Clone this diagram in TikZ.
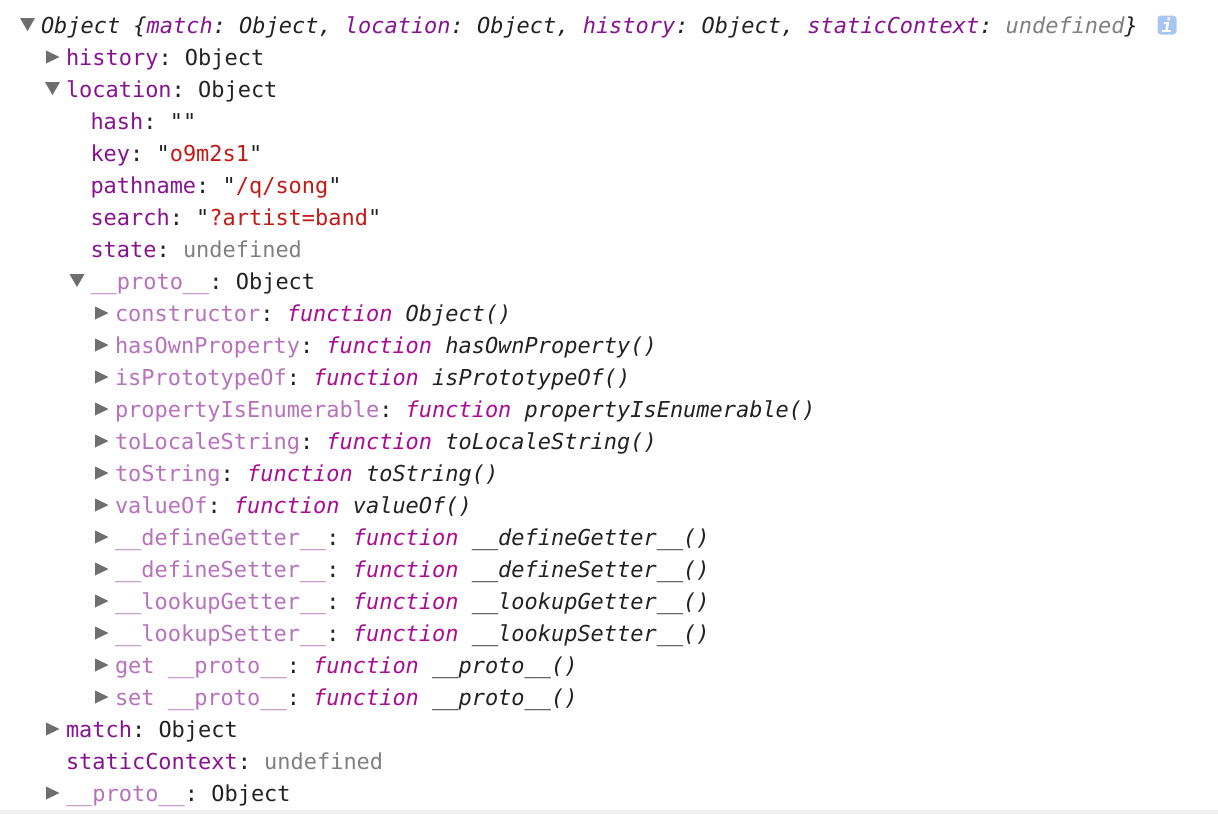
\documentclass[tikz,border=0pt]{standalone}
\usepackage{fontspec}
\setmonofont{DejaVu Sans Mono}
\definecolor{keyc}{HTML}{881391}
\definecolor{proc}{HTML}{B871BD}
\definecolor{strc}{HTML}{C41A16}
\definecolor{undc}{HTML}{808080}
\definecolor{fnc}{HTML}{AA0D91}
\definecolor{txtc}{HTML}{222222}
\definecolor{tric}{HTML}{6E6E6E}
\definecolor{infoc}{HTML}{A8C4F2}
\definecolor{sepc}{HTML}{F0F0F0}
\newcommand\ckey[1]{\textcolor{keyc}{#1}}
\newcommand\cpro[1]{\textcolor{proc}{#1}}
\newcommand\cstr[1]{"\textcolor{strc}{#1}"}
\newcommand\cund[1]{\textcolor{undc}{#1}}
\newcommand\cfn[1]{\textit{\textcolor{fnc}{function} #1}}
\newcommand\rtri[1]{\fill[tric] (#1.base west) ++(-20,-14.5) -- ++(0,13) -- ++(13.5,-6.5) -- cycle;}
\newcommand\dtri[1]{\fill[tric] (#1.base west) ++(-21,-15) -- ++(15,0) -- ++(-7.5,13) -- cycle;}
\begin{document}
\begin{tikzpicture}[x=1pt,y=-1pt,
  row/.style={anchor=base west,inner sep=0pt,outer sep=0pt,text=txtc,
    font=\ttfamily\fontsize{21.95}{32}\selectfont}]
\useasboundingbox (0,0) rectangle (1218,814);
\fill[white] (0,0) rectangle (1218,814);
\fill[sepc] (0,810) rectangle (1218,814);
% rows
\node[row] (r1) at (41,33) {\textit{Object \{\ckey{match}: Object, \ckey{location}: Object, \ckey{history}: Object, \ckey{staticContext}: \cund{undefined}\}}};
\node[row] (r2) at (66,65) {\ckey{history}: Object};
\node[row] (r3) at (66,97) {\ckey{location}: Object};
\node[row] (r4) at (90.5,129) {\ckey{hash}: ""};
\node[row] (r5) at (90.5,161) {\ckey{key}: \cstr{o9m2s1}};
\node[row] (r6) at (90.5,193) {\ckey{pathname}: \cstr{/q/song}};
\node[row] (r7) at (90.5,225) {\ckey{search}: \cstr{?artist=band}};
\node[row] (r8) at (90.5,257) {\ckey{state}: \cund{undefined}};
\node[row] (r9) at (90.5,289) {\cpro{\_\_proto\_\_}: Object};
\node[row] (r10) at (115,321) {\cpro{constructor}: \cfn{Object()}};
\node[row] (r11) at (115,353) {\cpro{hasOwnProperty}: \cfn{hasOwnProperty()}};
\node[row] (r12) at (115,385) {\cpro{isPrototypeOf}: \cfn{isPrototypeOf()}};
\node[row] (r13) at (115,417) {\cpro{propertyIsEnumerable}: \cfn{propertyIsEnumerable()}};
\node[row] (r14) at (115,449) {\cpro{toLocaleString}: \cfn{toLocaleString()}};
\node[row] (r15) at (115,481) {\cpro{toString}: \cfn{toString()}};
\node[row] (r16) at (115,513) {\cpro{valueOf}: \cfn{valueOf()}};
\node[row] (r17) at (115,545) {\cpro{\_\_defineGetter\_\_}: \cfn{\_\_defineGetter\_\_()}};
\node[row] (r18) at (115,577) {\cpro{\_\_defineSetter\_\_}: \cfn{\_\_defineSetter\_\_()}};
\node[row] (r19) at (115,609) {\cpro{\_\_lookupGetter\_\_}: \cfn{\_\_lookupGetter\_\_()}};
\node[row] (r20) at (115,641) {\cpro{\_\_lookupSetter\_\_}: \cfn{\_\_lookupSetter\_\_()}};
\node[row] (r21) at (115,673) {\cpro{get \_\_proto\_\_}: \cfn{\_\_proto\_\_()}};
\node[row] (r22) at (115,705) {\cpro{set \_\_proto\_\_}: \cfn{\_\_proto\_\_()}};
\node[row] (r23) at (66,737) {\ckey{match}: Object};
\node[row] (r24) at (66,769) {\ckey{staticContext}: \cund{undefined}};
\node[row] (r25) at (66,801) {\cpro{\_\_proto\_\_}: Object};
% disclosure triangles
\dtri{r1}
\rtri{r2}
\dtri{r3}
\dtri{r9}
\foreach \i in {10,...,22} {\rtri{r\i}}
\rtri{r23}
\rtri{r25}
% info icon
\node[fill=infoc,rounded corners=3.5pt,minimum width=19pt,minimum height=19pt,inner sep=0pt,
  text=white,font=\ttfamily\bfseries\itshape\fontsize{18}{18}\selectfont] (info) at (1167,25) {i};
\end{tikzpicture}
\end{document}
